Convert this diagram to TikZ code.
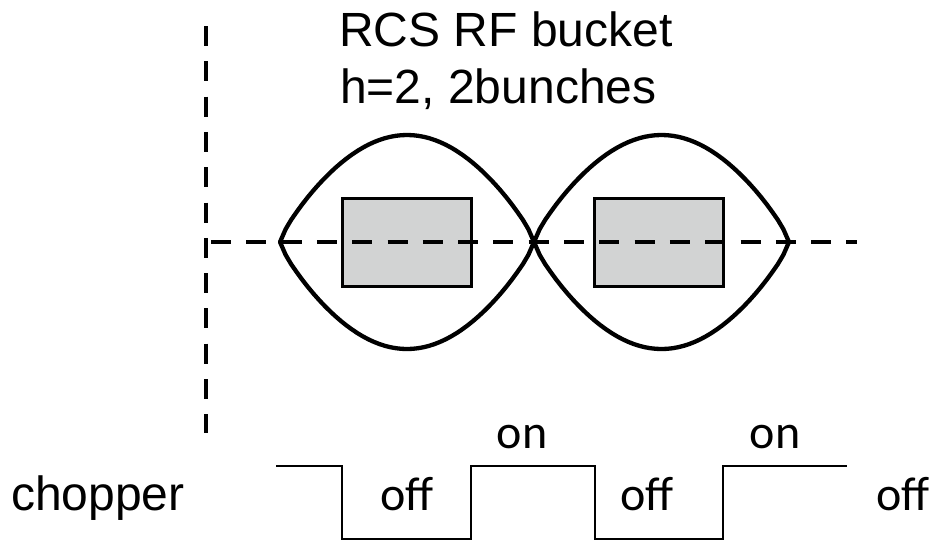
\documentclass[tikz,border=0pt]{standalone}
\usepackage{fontspec}
\setmainfont{Liberation Sans}
\newfontfamily\swfont{Carlito}
\definecolor{bunchgray}{RGB}{210,211,211}
\begin{document}
\begin{tikzpicture}[x=1pt, y=-1pt,
    lbl/.style={anchor=base west, inner sep=0pt, font=\fontsize{48}{58}\selectfont},
    sw/.style={anchor=base, inner sep=0pt, font=\swfont\fontsize{48}{58}\selectfont},
    axis/.style={line width=3.3pt, dash pattern=on 20pt off 15.3pt},
    sep/.style={line width=4.3pt, line join=round},
    bunch/.style={fill=bunchgray, draw=black, line width=3pt},
    wave/.style={line width=2.8pt}]
    \useasboundingbox (0,0) rectangle (936,542);
    % bunches
    \draw[bunch] (342,198) rectangle (471,286);
    \draw[bunch] (594,198) rectangle (723,286);
    % axes
    \draw[axis] (206,26) -- (206,433);
    \draw[axis] (211,242) -- (857,242);
    % buckets
    \coordinate (tip0) at (280,242);
    \coordinate (tip1) at (534,242);
    \coordinate (tip2) at (789,242);
    \draw[sep] (tip0) -- plot[domain=-86:86, samples=45] ({407+127*\x/90},{242-107*cos(\x)^0.8})
        -- (tip1) -- plot[domain=86:-86, samples=45] ({407+127*\x/90},{242+107*cos(\x)^0.8}) -- cycle;
    \draw[sep] (tip1) -- plot[domain=-86:86, samples=45] ({661.5+127.5*\x/90},{242-107*cos(\x)^0.8})
        -- (tip2) -- plot[domain=86:-86, samples=45] ({661.5+127.5*\x/90},{242+107*cos(\x)^0.8}) -- cycle;
    % chopper
    \draw[wave] (276,466) -| (342,539) -| (471,466) -| (595,539) -| (723,466) -- (847,466);
    \node[lbl] (title) at (339,46) {RCS RF bucket};
    \node[lbl] (harm) at (340,103) {h=2, 2bunches};
    \node[lbl] (chop) at (11,510) {chopper};
    \node[sw] (on1) at (522,448) {on};
    \node[sw] (on2) at (775,448) {on};
    \node[sw] (off1) at (407,510) {off};
    \node[sw] (off2) at (647,510) {off};
    \node[sw] (off3) at (903,510) {off};
\end{tikzpicture}
\end{document}
